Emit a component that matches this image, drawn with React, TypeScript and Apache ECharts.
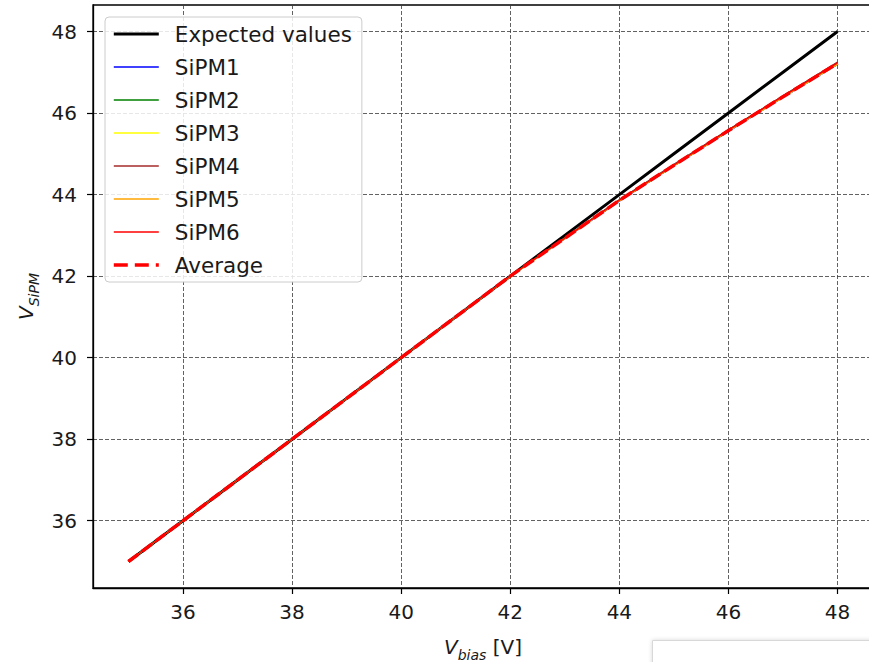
import React, { useEffect, useRef } from "react";
import * as echarts from "echarts";

const vBias = [35, 36, 37, 38, 39, 40, 41, 42, 43, 44, 45, 46, 47, 48];
const expected = [35, 36, 37, 38, 39, 40, 41, 42, 43, 44, 45, 46, 47, 48];
const sipm1 = [35.0, 36.0, 37.0, 38.0, 39.0, 40.0, 41.0, 42.0, 42.92, 43.84, 44.7, 45.55, 46.38, 47.19];
const sipm2 = [35.0, 36.0, 37.0, 38.0, 39.0, 40.0, 41.0, 42.0, 42.94, 43.87, 44.73, 45.59, 46.42, 47.24];
const sipm3 = [35.0, 36.0, 37.0, 38.0, 39.0, 40.0, 41.0, 41.99, 42.93, 43.85, 44.71, 45.56, 46.39, 47.2];
const sipm4 = [35.0, 36.0, 37.0, 38.0, 39.0, 40.0, 41.0, 42.0, 42.94, 43.87, 44.74, 45.59, 46.42, 47.25];
const sipm5 = [35.0, 36.0, 37.0, 38.0, 39.0, 40.0, 41.0, 41.99, 42.92, 43.85, 44.71, 45.56, 46.39, 47.2];
const sipm6 = [35.0, 36.0, 37.0, 38.0, 39.0, 40.0, 41.0, 42.0, 42.93, 43.86, 44.72, 45.58, 46.41, 47.23];
const average = [35.0, 36.0, 37.0, 38.0, 39.0, 40.0, 41.0, 42.0, 42.93, 43.86, 44.72, 45.57, 46.4, 47.22];

const xTicks = [36, 38, 40, 42, 44, 46, 48];
const yTicks = [36, 38, 40, 42, 44, 46, 48];

const sipmNames = ["SiPM1", "SiPM2", "SiPM3", "SiPM4", "SiPM5", "SiPM6"];
const sipmData = [sipm1, sipm2, sipm3, sipm4, sipm5, sipm6];
const sipmColors = ["#0000ff", "#008000", "#ffff00", "#a52a2a", "#ffa500", "#ff0000"];

const FONT = "DejaVu Sans";

export default function App() {
  const ref = useRef<HTMLDivElement>(null);
  useEffect(() => {
    if (!ref.current) return;
    const chart = echarts.init(ref.current, null, { renderer: "svg" });
    const pair = (ys: number[]) => vBias.map((x, i) => [x, ys[i]]);
    const gridLine = { show: true, lineStyle: { color: "#3a3a3a", width: 0.8, type: [4, 2] as any } };
    const series: any[] = [
      {
        name: "Expected values",
        type: "line",
        data: pair(expected),
        symbol: "none",
        lineStyle: { color: "#000", width: 3 },
        itemStyle: { color: "#000" },
      },
      ...sipmNames.map((n, i) => ({
        name: n,
        type: "line",
        data: pair(sipmData[i]),
        symbol: "none",
        lineStyle: { color: sipmColors[i], width: 1.3 },
        itemStyle: { color: sipmColors[i] },
      })),
      {
        name: "Average",
        type: "line",
        data: pair(average),
        symbol: "none",
        lineStyle: { color: "#ff0000", width: 3.5, type: [12, 5] },
        itemStyle: { color: "#ff0000" },
      },
    ];
    chart.setOption({
      animation: false,
      backgroundColor: "#fff",
      textStyle: { fontFamily: FONT },
      grid: {
        left: 93,
        top: 5,
        width: 780,
        height: 583,
        show: true,
        borderColor: "#000",
        borderWidth: 1.3,
        backgroundColor: "transparent",
        outerBoundsMode: "none",
        containLabel: false,
      },
      legend: {
        orient: "vertical",
        left: 105,
        top: 17,
        padding: [6, 10, 6, 7],
        itemWidth: 45,
        itemHeight: 14,
        itemGap: 11,
        itemStyle: { opacity: 0 },
        backgroundColor: "rgba(255,255,255,0.85)",
        borderColor: "#cccccc",
        borderWidth: 1,
        borderRadius: 4,
        textStyle: { fontFamily: FONT, fontSize: 21.5, color: "#1a1a1a", padding: [0, 0, 0, 11], lineHeight: 21 },
        data: [
          { name: "Expected values", lineStyle: { width: 3.2 } },
          ...sipmNames.map((n) => ({ name: n, lineStyle: { width: 1.4 } })),
          { name: "Average", lineStyle: { width: 3.6, type: [14, 7] } },
        ],
      },
      xAxis: {
        type: "value",
        min: 34.35,
        max: 48.65,
        splitNumber: 7,
        axisLine: { show: true, onZero: false, lineStyle: { color: "#000", width: 1.3 } },
        axisTick: { show: true, length: 6, lineStyle: { color: "#000", width: 1.2 }, customValues: xTicks },
        axisLabel: { fontFamily: FONT, fontSize: 20, color: "#1a1a1a", margin: 14, customValues: xTicks },
        splitLine: gridLine,
        name: "{v|V}{s|bias}{n| [V]}",
        nameLocation: "middle",
        nameGap: 44,
        nameTextStyle: {
          rich: {
            v: { fontFamily: FONT, fontStyle: "italic", fontSize: 20, color: "#1a1a1a", lineHeight: 30, verticalAlign: "middle" },
            s: { fontFamily: FONT, fontStyle: "italic", fontSize: 14, color: "#1a1a1a", lineHeight: 30, verticalAlign: "bottom" },
            n: { fontFamily: FONT, fontSize: 20, color: "#1a1a1a", lineHeight: 30, verticalAlign: "middle" },
          },
        },
      },
      yAxis: {
        type: "value",
        min: 34.35,
        max: 48.65,
        splitNumber: 7,
        axisLine: { show: true, onZero: false, lineStyle: { color: "#000", width: 1.3 } },
        axisTick: { show: true, length: 6, lineStyle: { color: "#000", width: 1.2 }, customValues: yTicks },
        axisLabel: { fontFamily: FONT, fontSize: 20, color: "#1a1a1a", margin: 16, customValues: yTicks },
        splitLine: gridLine,
        name: "{v|V}{s|SiPM}",
        nameLocation: "middle",
        nameGap: 46,
        nameTextStyle: {
          rich: {
            v: { fontFamily: FONT, fontStyle: "italic", fontSize: 20, color: "#1a1a1a", lineHeight: 30, verticalAlign: "middle" },
            s: { fontFamily: FONT, fontStyle: "italic", fontSize: 14, color: "#1a1a1a", lineHeight: 30, verticalAlign: "bottom" },
          },
        },
      },
      graphic: [
        {
          type: "rect",
          left: 652,
          top: 640,
          shape: { width: 240, height: 40 },
          style: { fill: "#fff", stroke: "#d8d8d8", lineWidth: 1, shadowBlur: 4, shadowColor: "rgba(0,0,0,0.15)" },
          z: 100,
        },
      ],
      series,
    });
    return () => chart.dispose();
  }, []);
  return (
    <div
      ref={ref}
      style={{ position: "absolute", left: 0, top: 0, width: 869, height: 662, background: "#fff" }}
    />
  );
}
